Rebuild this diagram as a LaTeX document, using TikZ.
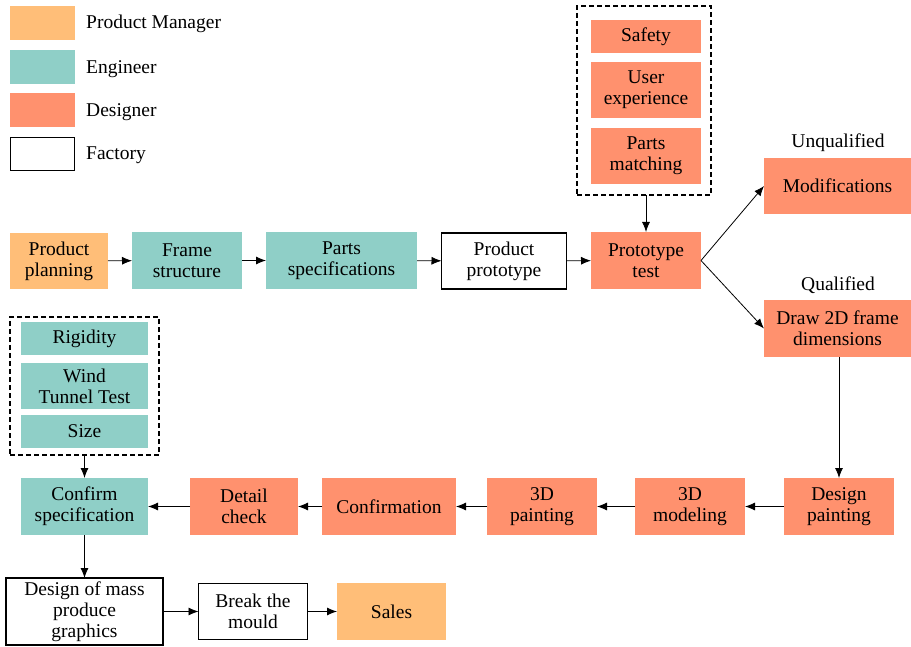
\documentclass[tikz,border=0pt]{standalone}
\usepackage{fontspec}
\setmainfont{Liberation Serif}
\usetikzlibrary{arrows.meta}
\definecolor{pmc}{RGB}{255,190,120}
\definecolor{engc}{RGB}{143,207,199}
\definecolor{desc}{RGB}{255,145,110}
\begin{document}
\begin{tikzpicture}[x=1pt,y=-1pt,
  box/.style={inner sep=0pt, outer sep=0pt, align=center, font=\fontsize{19.5}{21}\selectfont},
  pm/.style={box, fill=pmc},
  eng/.style={box, fill=engc},
  des/.style={box, fill=desc},
  fac/.style={box, draw=black, line width=1.5pt, fill=white},
  arr/.style={-{Latex[length=10pt,width=8pt]}, line width=0.8pt},
  dbox/.style={draw, inner sep=0pt, outer sep=0pt, line width=1.3pt, dash pattern=on 5pt off 3pt},
  lbl/.style={inner sep=0pt, font=\fontsize{19.5}{21}\selectfont}]
\useasboundingbox (0,0) rectangle (911,647);

% legend
\node[pm, minimum width=65, minimum height=34] (lpm) at (42.5,23) {};
\node[eng, minimum width=65, minimum height=34] (leng) at (42.5,67) {};
\node[des, minimum width=65, minimum height=34] (ldes) at (42.5,110) {};
\node[fac, minimum width=64, minimum height=33] (lfac) at (42.5,154) {};
\node[lbl, anchor=west] (tpm) at (86,24) {Product Manager};
\node[lbl, anchor=west] (teng) at (86,69) {Engineer};
\node[lbl, anchor=west] (tdes) at (86,112) {Designer};
\node[lbl, anchor=west] (tfac) at (86,155) {Factory};

% top dashed group
\node[dbox, minimum width=134, minimum height=189] (tb) at (644,100.5) {};
\node[des, minimum width=110, minimum height=33] (saf) at (646,36.5) {Safety};
\node[des, minimum width=110, minimum height=56] (ux) at (646,90) {User\\experience};
\node[des, minimum width=110, minimum height=56] (pmt) at (646,156) {Parts\\matching};

% row 1
\node[pm, minimum width=98, minimum height=56] (pp) at (59,261) {Product\\planning};
\node[eng, minimum width=110, minimum height=57] (fs) at (187,260.5) {Frame\\structure};
\node[eng, minimum width=151, minimum height=57] (ps) at (341.5,260.5) {Parts\\specifications};
\node[fac, minimum width=125, minimum height=56] (pr) at (504,261) {Product\\prototype};
\node[des, minimum width=110, minimum height=57] (pt) at (646,260.5) {Prototype\\test};

\node[des, minimum width=147, minimum height=56] (mod) at (837.5,186) {Modifications};
\node[lbl] (unq) at (838,143) {Unqualified};
\node[des, minimum width=147, minimum height=57] (d2d) at (837.5,328.5) {Draw 2D frame\\dimensions};
\node[lbl] (qua) at (838,285) {Qualified};

% left dashed group
\node[dbox, minimum width=149, minimum height=138] (lb) at (84.5,386) {};
\node[eng, minimum width=127, minimum height=33] (rig) at (84.5,338.5) {Rigidity};
\node[eng, minimum width=127, minimum height=46] (wtt) at (84.5,386) {Wind\\Tunnel Test};
\node[eng, minimum width=127, minimum height=33] (siz) at (84.5,431.5) {Size};

% row 3
\node[des, minimum width=110, minimum height=57] (dp) at (839,506.5) {Design\\painting};
\node[des, minimum width=110, minimum height=57] (m3) at (690,506.5) {3D\\modeling};
\node[des, minimum width=110, minimum height=57] (p3) at (542,506.5) {3D\\painting};
\node[des, minimum width=134, minimum height=57] (cf) at (389,506.5) {Confirmation};
\node[des, minimum width=108, minimum height=57] (dc) at (244,506.5) {Detail\\check};
\node[eng, minimum width=127, minimum height=57] (cs) at (84.5,506.5) {Confirm\\specification};

% row 4
\node[fac, minimum width=157, minimum height=67] (dm) at (84.5,611.5) {Design of mass\\produce\\graphics};
\node[fac, minimum width=109, minimum height=56] (bm) at (253,611.5) {Break the\\mould};
\node[pm, minimum width=109, minimum height=57] (sal) at (391.5,611.5) {Sales};

% connectors
\draw[arr] (tb.south -| pt.north) -- (pt.north);
\draw[arr] (pp) -- (fs);
\draw[arr] (fs) -- (ps);
\draw[arr] (ps) -- (pr);
\draw[arr] (pr) -- (pt);
\draw[arr] (pt.east) -- (mod.west);
\draw[arr] (pt.east) -- (d2d.west);
\draw[arr] (d2d.south -| dp.north) -- (dp.north);
\draw[arr] (dp) -- (m3);
\draw[arr] (m3) -- (p3);
\draw[arr] (p3) -- (cf);
\draw[arr] (cf) -- (dc);
\draw[arr] (dc) -- (cs);
\draw[arr] (lb.south) -- (cs.north);
\draw[arr] (cs.south) -- (dm.north);
\draw[arr] (dm.east) -- (bm.west);
\draw[arr] (bm) -- (sal);
\end{tikzpicture}
\end{document}
